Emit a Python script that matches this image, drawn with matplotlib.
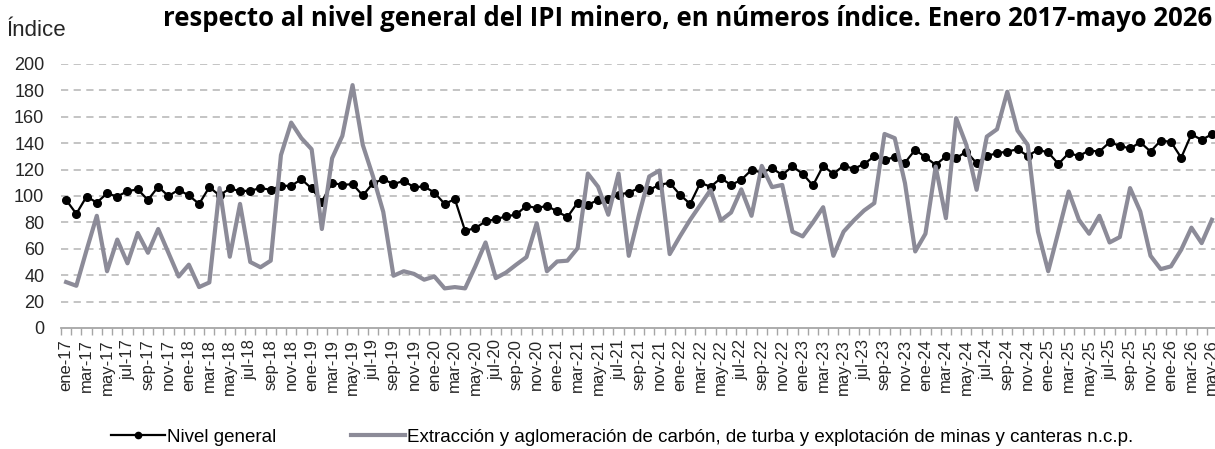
import numpy as np
import matplotlib
matplotlib.use("Agg")
import matplotlib.pyplot as plt
from matplotlib.lines import Line2D

# monthly series, ene-2017 .. may-2026
meses = ["ene", "feb", "mar", "abr", "may", "jun", "jul", "ago", "sep", "oct", "nov", "dic"]
anios = list(range(17, 27))
etiquetas = [f"{m}-{a}" for a in anios for m in meses][:113]

nivel_general = [
    97, 86.5, 99.6, 95, 102, 99.6, 103.7, 105, 97, 107, 100, 104.7,
    100.4, 94, 106.7, 100.4, 105.7, 103.7, 104, 106, 104.7, 107.7, 107.7, 112.7,
    105.7, 95.8, 110, 108.4, 109, 100.4, 109.7, 112.7, 109, 111.5, 106.7, 107.2,
    102.6, 94, 97.6, 73.6, 75.7, 80.7, 82.5, 84.5, 86, 92.6, 90.8, 92.6,
    88.3, 84, 95, 93.3, 97, 97.6, 101, 102.6, 106, 104.7, 108.4, 110,
    101, 94, 110, 107, 113.5, 108.4, 112.2, 119.8, 117.8, 121, 116, 122.4,
    116.8, 108, 122.8, 116.8, 123, 120.6, 124.3, 130, 127.4, 129.4, 125.3, 135,
    129.4, 123.6, 130, 128.6, 133.7, 124.8, 130.4, 132.4, 133.7, 135.4, 130.4, 135,
    133, 124.3, 132.4, 130.4, 134.4, 133.7, 140.7, 138, 136, 140.7, 133.7, 142,
    141, 129, 146.8, 142.5, 146.8,
]

carbon_minas = [
    34.8, 32, 59, 85, 43, 67, 49, 72, 57, 75, 57, 39,
    48, 31, 34.5, 106, 54, 94, 50, 46, 51, 131, 155.6, 143.8,
    135.4, 75, 128.6, 145.5, 184, 138.7, 114.8, 88, 39.6, 43, 41, 36.6,
    39, 30, 31, 30, 46.7, 64.8, 37.8, 42, 48, 53.7, 79.4, 43,
    50.4, 51, 60.5, 117, 107, 85.8, 117, 54.7, 85.8, 114.8, 119.3, 56,
    69.4, 82, 93.3, 104.7, 81.5, 87.5, 105, 85, 122.8, 106.7, 108.4, 73,
    69.4, 80, 91.5, 54.7, 73, 81.5, 89, 94.6, 147, 143.8, 109.7, 58,
    71.4, 122.3, 83.2, 159, 138.7, 104.7, 145, 150.6, 179, 149.6, 138.7, 73,
    43, 73, 103.4, 82, 71.4, 85, 64.8, 68.9, 106, 88.3, 54.7, 44.6,
    46.7, 59.3, 76, 64.3, 82,
]

titulo = "respecto al nivel general del IPI minero, en números índice. Enero 2017-mayo 2026"
serie1 = "Nivel general"
serie2 = "Extracción y aglomeración de carbón, de turba y explotación de minas y canteras n.c.p."

gris = "#8c8b98"
texto = "#262626"
plt.rcParams["font.family"] = ["Liberation Sans", "DejaVu Sans"]

fig = plt.figure(figsize=(12.15, 4.49), dpi=100)
ax = fig.add_axes([61 / 1215, 121 / 449, 1156 / 1215, 264 / 449])

x = np.arange(len(nivel_general))
ax.plot(x, nivel_general, color="black", lw=1.6, marker="o", ms=5.5, zorder=3)
ax.plot(x, carbon_minas, color=gris, lw=3.0, zorder=4)

ax.set_ylim(0, 200)
ax.set_xlim(-0.5, len(x) - 0.5)
ax.set_yticks(np.arange(0, 201, 20))
for v in range(20, 201, 20):
    ax.axhline(v, color="#bfbfbf", lw=1.3, ls=(0, (4, 3)), zorder=1)

for s in ["left", "right", "top"]:
    ax.spines[s].set_visible(False)
ax.spines["bottom"].set_color("#a6a6a6")
ax.spines["bottom"].set_linewidth(1.3)

ax.set_xticks(np.arange(-0.5, len(x), 1.0))
ax.set_xticklabels([])
ax.tick_params(axis="x", which="major", length=5, color="#a6a6a6", width=1)
ax.set_xticks(x[::2], minor=True)
ax.set_xticklabels(etiquetas[::2], minor=True, rotation=90, fontsize=12, color=texto)
ax.tick_params(axis="x", which="minor", length=0, pad=8)
ax.tick_params(axis="y", length=0, labelsize=13, pad=12, labelcolor=texto)

fig.text(7 / 1215, 1 - 30 / 449, "Índice", fontsize=16, va="center", ha="left", color=texto)
fig.text(163 / 1215, 1 - 19 / 449, titulo, fontsize=18.5, fontweight="bold",
         family="Open Sans", va="center", ha="left", color="black")

handles = [
    Line2D([], [], color="black", lw=1.6, marker="o", ms=4.5),
    Line2D([], [], color=gris, lw=3.0),
]
fig.legend(handles, [serie1, serie2], loc="center left", bbox_to_anchor=(103 / 1215, 1 - 437 / 449),
           ncol=2, frameon=False, fontsize=13.5, handlelength=2.9, handletextpad=0.1,
           columnspacing=4.0, borderaxespad=0)

fig.savefig("out.png", dpi=100)
